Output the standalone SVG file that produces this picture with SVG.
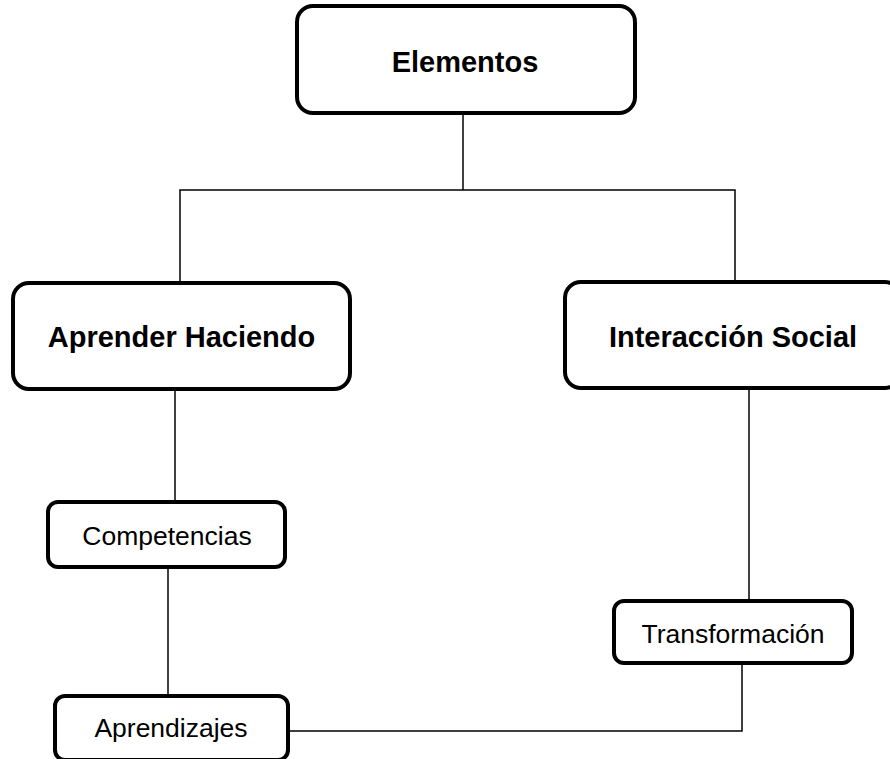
<svg xmlns="http://www.w3.org/2000/svg" width="890" height="759" viewBox="0 0 890 759">
<style>
.box{fill:#fff;stroke:#000;stroke-width:4}
.big{font-family:"Liberation Sans",Arial,sans-serif;font-weight:bold;font-size:29px;text-anchor:middle;fill:#000}
.small{font-family:"Liberation Sans",Arial,sans-serif;font-size:26.5px;text-anchor:middle;fill:#000}
.conn{fill:none;stroke:#000;stroke-width:1.5}
</style>
<rect width="890" height="759" fill="#fff"/>
<g id="connectors">
<polyline class="conn" points="463,113 463,190"/>
<polyline class="conn" points="180,283 180,190 735,190 735,282"/>
<polyline class="conn" points="175,385 175,502"/>
<polyline class="conn" points="168,567 168,696"/>
<polyline class="conn" points="749,388 749,601"/>
<polyline class="conn" points="288,731 742,731 742,663"/>
</g>
<g id="elementos">
<rect class="box" x="297" y="6" width="338" height="107" rx="16"/>
<text class="big" x="465" y="72">Elementos</text>
</g>
<g id="aprender-haciendo">
<rect class="box" x="13" y="283" width="337" height="106" rx="16"/>
<text class="big" x="181.5" y="347">Aprender Haciendo</text>
</g>
<g id="interaccion-social">
<rect class="box" x="565" y="282" width="336" height="106" rx="16"/>
<text class="big" x="733" y="347">Interacción Social</text>
</g>
<g id="competencias">
<rect class="box" x="48" y="502" width="237" height="65" rx="10"/>
<text class="small" x="167" y="545">Competencias</text>
</g>
<g id="transformacion">
<rect class="box" x="614" y="601" width="238" height="62" rx="10"/>
<text class="small" x="733" y="643">Transformación</text>
</g>
<g id="aprendizajes">
<rect class="box" x="55" y="696" width="233" height="64" rx="10"/>
<text class="small" x="171" y="737">Aprendizajes</text>
</g>
</svg>
